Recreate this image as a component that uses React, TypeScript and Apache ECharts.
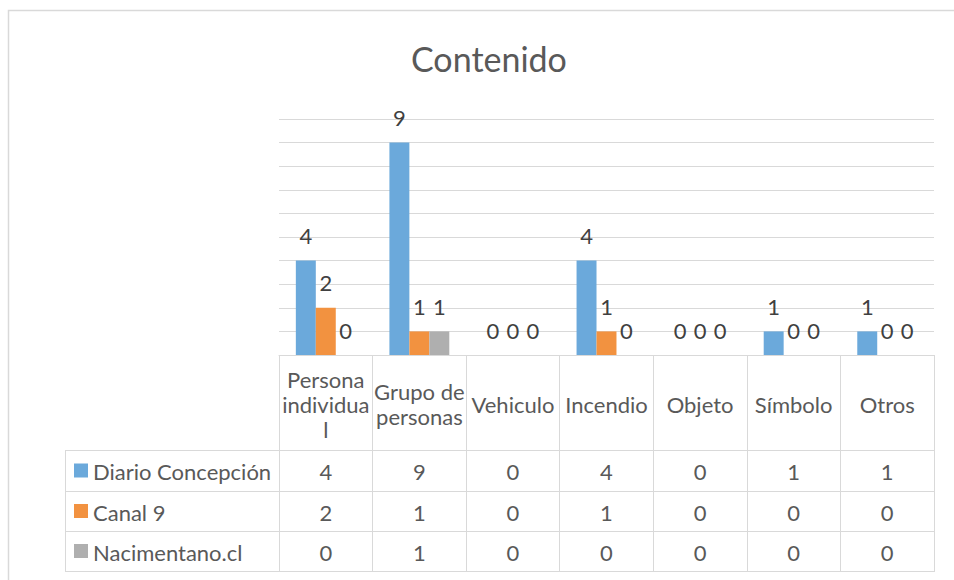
import React, { useEffect, useRef } from "react";
import * as echarts from "echarts";

const title = "Contenido";
const categories = ["Persona individual", "Grupo de personas", "Vehiculo", "Incendio", "Objeto", "Símbolo", "Otros"];
const categoryLabels = ["Persona\nindividua\nl", "Grupo de\npersonas", "Vehiculo", "Incendio", "Objeto", "Símbolo", "Otros"];
const seriesNames = ["Diario Concepción", "Canal 9", "Nacimentano.cl"];
const diarioConcepcion = [4, 9, 0, 4, 0, 1, 1];
const canal9 = [2, 1, 0, 1, 0, 0, 0];
const nacimentano = [0, 1, 0, 0, 0, 0, 0];
const colors = ["#6BA9DB", "#F29240", "#AFAFAF"];
const yTicks = { min: 0, max: 10, interval: 1 };

const FONT = "Lato, 'Open Sans', sans-serif";
const TEXT = "#595959";
const LINE = "#D9D9D9";
const FS = 22;

export default function App() {
  const ref = useRef<HTMLDivElement>(null);
  useEffect(() => {
    if (!ref.current) return;
    const chart = echarts.init(ref.current, null, { renderer: "svg" });
    const seriesData = [diarioConcepcion, canal9, nacimentano];
    const gridLeft = 279;
    const gridRight = 934;
    const axisY = 355;
    const tableBottom = 572;
    chart.setOption({
      animation: false,
      backgroundColor: "#fff",
      textStyle: { fontFamily: FONT },
      title: {
        text: title,
        left: 406,
        top: 36,
        textStyle: { fontFamily: FONT, fontSize: 34, fontWeight: "normal", color: TEXT },
      },
      grid: { left: gridLeft, right: 954 - gridRight, top: 119, bottom: 580 - axisY, containLabel: false },
      xAxis: {
        type: "category",
        data: categories,
        axisLine: { show: true, lineStyle: { color: LINE, width: 1 } },
        axisTick: { show: true, interval: 0, length: tableBottom - axisY, lineStyle: { color: LINE, width: 1 } },
        axisLabel: {
          interval: 0,
          margin: 49,
          verticalAlign: "middle",
          lineHeight: 25,
          fontSize: FS,
          fontFamily: FONT,
          color: TEXT,
          formatter: (v: string) => categoryLabels[categories.indexOf(v)] ?? v,
        },
      },
      yAxis: {
        type: "value",
        min: yTicks.min,
        max: yTicks.max,
        interval: yTicks.interval,
        axisLabel: { show: false },
        axisLine: { show: false },
        axisTick: { show: false },
        splitLine: { show: true, lineStyle: { color: LINE, width: 1 } },
      },
      series: seriesNames.map((name, i) => ({
        name,
        type: "bar",
        data: seriesData[i],
        barGap: "0%",
        barCategoryGap: "36%",
        itemStyle: { color: colors[i] },
        label: {
          show: true,
          position: "top",
          distance: 14,
          fontSize: FS,
          fontFamily: FONT,
          color: "#404040",
        },
      })),
    });

    // Data table beneath the axis
    const rowTops = [450, 491, 531, 571];
    const tableLeft = 65.5;
    const graphics: any[] = [];
    graphics.push({
      type: "rect",
      shape: { x: 8.5, y: 10.5, width: 960, height: 600 },
      style: { fill: "none", stroke: LINE, lineWidth: 1.5 },
      silent: true,
      z: -1,
    });
    rowTops.forEach((y) => {
      graphics.push({
        type: "line",
        shape: { x1: tableLeft, y1: y + 0.5, x2: gridRight, y2: y + 0.5 },
        style: { stroke: LINE, lineWidth: 1 },
      });
    });
    graphics.push({
      type: "line",
      shape: { x1: tableLeft, y1: rowTops[0], x2: tableLeft, y2: rowTops[3] + 1 },
      style: { stroke: LINE, lineWidth: 1 },
    });
    seriesNames.forEach((name, r) => {
      const yc = (rowTops[r] + rowTops[r + 1]) / 2 + 1;
      graphics.push({
        type: "rect",
        shape: { x: 74, y: yc - 8, width: 14, height: 14 },
        style: { fill: colors[r] },
      });
      graphics.push({
        type: "text",
        style: {
          text: name,
          x: 93,
          y: yc,
          fontSize: FS,
          fontFamily: FONT,
          fill: TEXT,
          verticalAlign: "middle",
          align: "left",
        },
      });
      seriesData[r].forEach((v, c) => {
        const px = chart.convertToPixel({ xAxisIndex: 0 }, categories[c]) as number;
        graphics.push({
          type: "text",
          style: {
            text: String(v),
            x: px,
            y: yc,
            fontSize: FS,
            fontFamily: FONT,
            fill: TEXT,
            align: "center",
            verticalAlign: "middle",
          },
        });
      });
    });
    chart.setOption({ graphic: graphics });
    return () => chart.dispose();
  }, []);
  return <div ref={ref} style={{ width: 954, height: 580, position: "absolute", left: 0, top: 0 }} />;
}
